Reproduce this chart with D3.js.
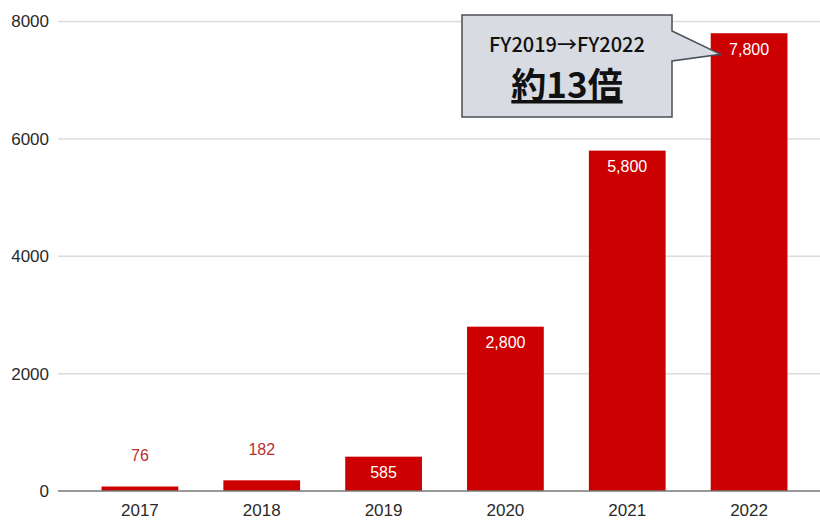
<!DOCTYPE html>
<html>
<head>
<meta charset="utf-8">
<script src="https://cdn.jsdelivr.net/npm/d3@7"></script>
<style>
  body { margin: 0; background: #fff; }
  svg { display: block; font-family: "Liberation Sans", Arial, sans-serif; }
</style>
</head>
<body>
<svg id="chart"></svg>
<script>
"use strict";

const years = ["2017", "2018", "2019", "2020", "2021", "2022"];
const values = [76, 182, 585, 2800, 5800, 7800];
const yTicks = [0, 2000, 4000, 6000, 8000];
const calloutTop = "FY2019\u2192FY2022";
const calloutMain = "約13倍";

const width = 820, height = 521;
const data = years.map((y, i) => ({ year: y, value: values[i] }));

const chart = d3.select('#chart')
  .attr('width', width)
  .attr('height', height);

const x = d3.scaleBand()
  .domain(years)
  .range([79, 810])
  .paddingInner(0.37)
  .paddingOuter(0.185);

const y = d3.scaleLinear()
  .domain([0, 8000])
  .range([491, 21.5]);

// gridlines + y labels
chart.append('g').selectAll('line')
  .data(yTicks.filter(d => d > 0))
  .enter().append('line')
  .attr('x1', 58).attr('x2', width)
  .attr('y1', d => y(d)).attr('y2', d => y(d))
  .attr('stroke', '#dcdcdc')
  .attr('stroke-width', 1.5);

chart.append('g').selectAll('text')
  .data(yTicks)
  .enter().append('text')
  .attr('x', 49)
  .attr('y', d => y(d))
  .attr('dy', '0.35em')
  .attr('text-anchor', 'end')
  .attr('font-size', 17)
  .attr('fill', '#2a2a2a')
  .text(d => d);

// bars
chart.append('g').selectAll('rect')
  .data(data)
  .enter().append('rect')
  .attr('x', d => x(d.year))
  .attr('width', x.bandwidth())
  .attr('y', d => y(d.value))
  .attr('height', d => y(0) - y(d.value))
  .attr('fill', '#cc0000');

// baseline
chart.append('line')
  .attr('x1', 58).attr('x2', width)
  .attr('y1', y(0)).attr('y2', y(0))
  .attr('stroke', '#777')
  .attr('stroke-width', 1.5);

// x labels
chart.append('g').selectAll('text')
  .data(years)
  .enter().append('text')
  .attr('x', d => x(d) + x.bandwidth() / 2)
  .attr('y', 516)
  .attr('text-anchor', 'middle')
  .attr('font-size', 17)
  .attr('fill', '#2a2a2a')
  .text(d => d);

// value labels
const fmt = v => v >= 1000 ? d3.format(',')(v) : String(v);
chart.append('g').selectAll('text')
  .data(data)
  .enter().append('text')
  .attr('x', d => x(d.year) + x.bandwidth() / 2)
  .attr('y', d => d.value < 400 ? y(d.value) - 31 : y(d.value) + 16)
  .attr('dy', '0.35em')
  .attr('text-anchor', 'middle')
  .attr('font-size', 16)
  .attr('fill', d => d.value < 400 ? '#b83030' : '#fff')
  .text(d => fmt(d.value));

// callout
const bx0 = 462, bx1 = 672, by0 = 15, by1 = 117;
const tipX = x("2022") + 10, tipY = y(values[5]) + 21;
chart.append('path')
  .attr('d', `M${bx0},${by0} H${bx1} V31 L${tipX},${tipY} L${bx1},61 V${by1} H${bx0} Z`)
  .attr('fill', '#d8dce2')
  .attr('stroke', '#4a4f57')
  .attr('stroke-width', 1.5);

const cx = (bx0 + bx1) / 2;
chart.append('text')
  .attr('x', cx).attr('y', 52)
  .attr('text-anchor', 'middle')
  .attr('font-family', '"Noto Sans CJK JP", sans-serif')
  .attr('font-size', 20)
  .attr('font-weight', 500)
  .attr('fill', '#111')
  .text(calloutTop);

chart.append('text')
  .attr('x', cx).attr('y', 98)
  .attr('text-anchor', 'middle')
  .attr('font-family', '"Noto Sans CJK JP", sans-serif')
  .attr('font-size', 35)
  .attr('font-weight', 'bold')
  .attr('text-decoration', 'underline')
  .attr('fill', '#111')
  .text(calloutMain);
</script>
</body>
</html>
